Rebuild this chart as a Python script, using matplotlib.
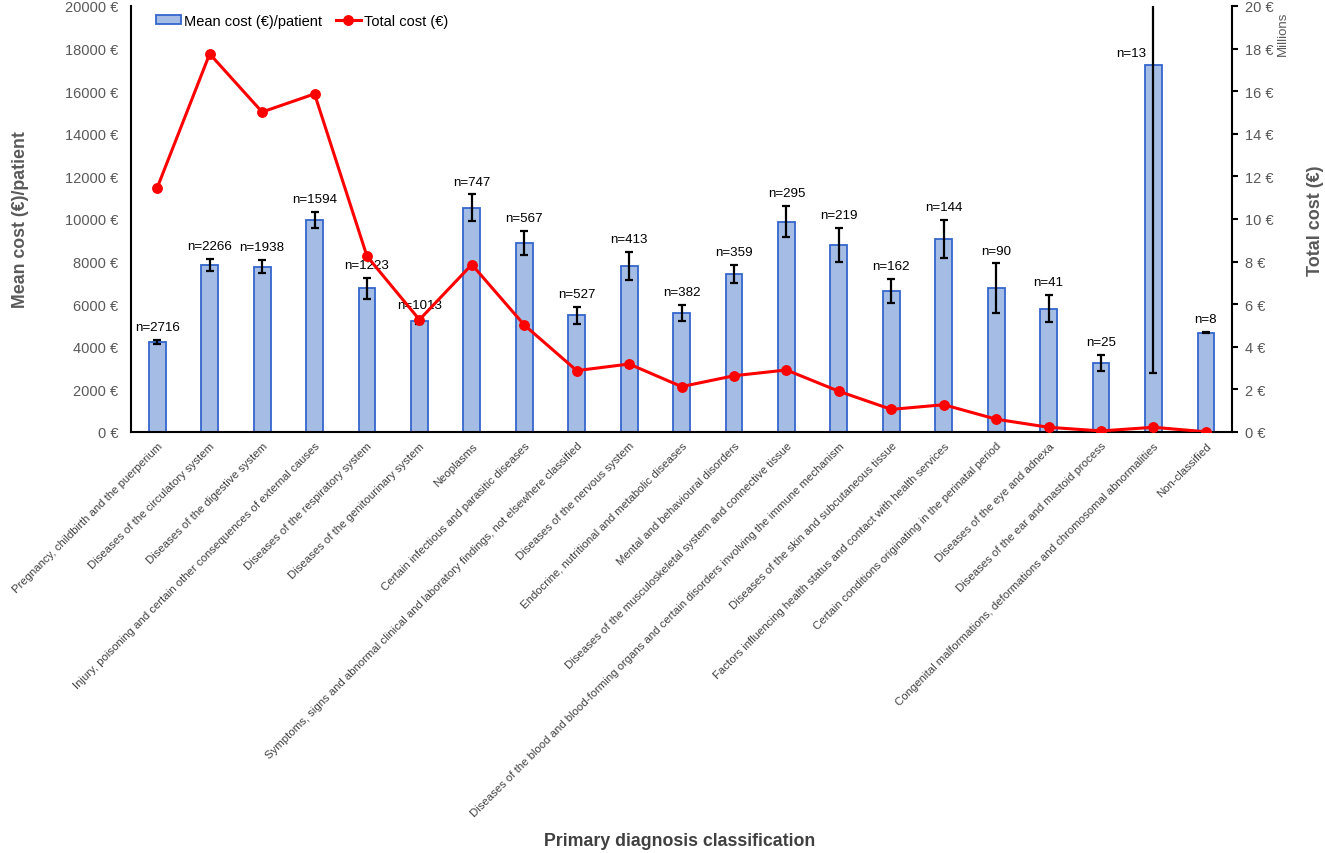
import matplotlib
matplotlib.use("Agg")
import matplotlib.pyplot as plt
import numpy as np
from matplotlib.ticker import FuncFormatter

plt.rcParams['font.family'] = ['Liberation Sans', 'DejaVu Sans']

categories = [
    "Pregnancy, childbirth and the puerperium",
    "Diseases of the circulatory system",
    "Diseases of the digestive system",
    "Injury, poisoning and certain other consequences of external causes",
    "Diseases of the respiratory system",
    "Diseases of the genitourinary system",
    "Neoplasms",
    "Certain infectious and parasitic diseases",
    "Symptoms, signs and abnormal clinical and laboratory findings, not elsewhere classified",
    "Diseases of the nervous system",
    "Endocrine, nutritional and metabolic diseases",
    "Mental and behavioural disorders",
    "Diseases of the musculoskeletal system and connective tissue",
    "Diseases of the blood and blood-forming organs and certain disorders involving the immune mechanism",
    "Diseases of the skin and subcutaneous tissue",
    "Factors influencing health status and contact with health services",
    "Certain conditions originating in the perinatal period",
    "Diseases of the eye and adnexa",
    "Diseases of the ear and mastoid process",
    "Congenital malformations, deformations and chromosomal abnormalities",
    "Non-classified",
]
n_patients = [2716, 2266, 1938, 1594, 1223, 1013, 747, 567, 527, 413, 382,
              359, 295, 219, 162, 144, 90, 41, 25, 13, 8]
mean_cost = [4210, 7840, 7760, 9950, 6750, 5200, 10520, 8870, 5480, 7780, 5600,
             7420, 9880, 8780, 6620, 9060, 6750, 5780, 3250, 17250, 4660]
mean_err = [100, 300, 300, 380, 490, 150, 630, 580, 410, 660, 375,
            430, 745, 815, 555, 900, 1160, 630, 365, 14460, 20]
total_cost_millions = [11.47, 17.75, 15.02, 15.87, 8.25, 5.27, 7.86, 5.02, 2.88, 3.19, 2.13,
                       2.64, 2.91, 1.91, 1.06, 1.28, 0.60, 0.22, 0.05, 0.22, 0.01]

gray = '#595959'
fig = plt.figure(figsize=(13.25, 8.54), dpi=100)
ax = fig.add_axes([0.0989, 0.493, 0.8310, 0.4989])
x = np.arange(len(categories))

ax.bar(x, mean_cost, width=0.32, color='#A5BDE5', edgecolor='#3366CC',
       linewidth=1.3, label='Mean cost (€)/patient', zorder=2)
ax.errorbar(x, mean_cost, yerr=mean_err, fmt='none', ecolor='black',
            elinewidth=1.6, capsize=3, capthick=1.6, zorder=3)

ax.set_xlim(-0.5, len(categories) - 0.5)
ax.set_ylim(0, 20000)
ax.set_yticks(np.arange(0, 20001, 2000))
ax.yaxis.set_major_formatter(FuncFormatter(lambda v, p: f"{int(v)} €"))
ax.tick_params(axis='y', length=0, labelsize=10.5, labelcolor=gray, pad=9)
ax.set_xticks(x)
ax.set_xticklabels(categories, rotation=45, ha='right', rotation_mode='anchor',
                   fontsize=8.2, color='#404040')
ax.tick_params(axis='x', length=0, pad=6)
for s in ['top', 'right']:
    ax.spines[s].set_visible(False)
for s in ['left', 'bottom']:
    ax.spines[s].set_linewidth(1.5)

fig.text(21 / 1325, 1 - 220 / 854, 'Mean cost (€)/patient', rotation=90, fontsize=12.8,
         fontweight='bold', color=gray, ha='center', va='center')
fig.text(680 / 1325, 1 - 842 / 854, 'Primary diagnosis classification', fontsize=12.8,
         fontweight='bold', color='#404040', ha='center', va='center')
fig.text(1316 / 1325, 1 - 221 / 854, 'Total cost (€)', rotation=90, fontsize=13,
         fontweight='bold', color=gray, ha='center', va='center')
fig.text(1283 / 1325, 1 - 34 / 854, 'Millions', rotation=90, fontsize=9.5, color=gray,
         ha='center', va='center')

for i, (m, e, n) in enumerate(zip(mean_cost, mean_err, n_patients)):
    if m + e > 20000:
        ax.annotate(f"n={n}", (i, m), xytext=(-16, 4), textcoords='offset points',
                    ha='center', va='bottom', fontsize=9.6)
    else:
        ax.annotate(f"n={n}", (i, m + e), xytext=(0, 5), textcoords='offset points',
                    ha='center', va='bottom', fontsize=9.6)

ax2 = ax.twinx()
ax2.plot(x, total_cost_millions, color='#FF0000', lw=2.2, marker='o', markersize=6.8,
         label='Total cost (€)', zorder=5)
ax2.set_ylim(0, 20)
ax2.set_yticks(np.arange(0, 21, 2))
ax2.yaxis.set_major_formatter(FuncFormatter(lambda v, p: f"{int(v)} €"))
ax2.tick_params(axis='y', length=4, width=1.5, direction='out', labelsize=10.5,
                labelcolor=gray, pad=5)
for s in ['top', 'left', 'bottom']:
    ax2.spines[s].set_visible(False)
ax2.spines['right'].set_linewidth(1.5)

h1, l1 = ax.get_legend_handles_labels()
h2, l2 = ax2.get_legend_handles_labels()
ax.legend(h1 + h2, l1 + l2, loc='upper left', bbox_to_anchor=(0.0107, 1.012), ncol=2,
          frameon=False, fontsize=10.5, handlelength=1.75, handleheight=0.6,
          handletextpad=0.2, columnspacing=0.9)

fig.savefig('out.png', dpi=100)
